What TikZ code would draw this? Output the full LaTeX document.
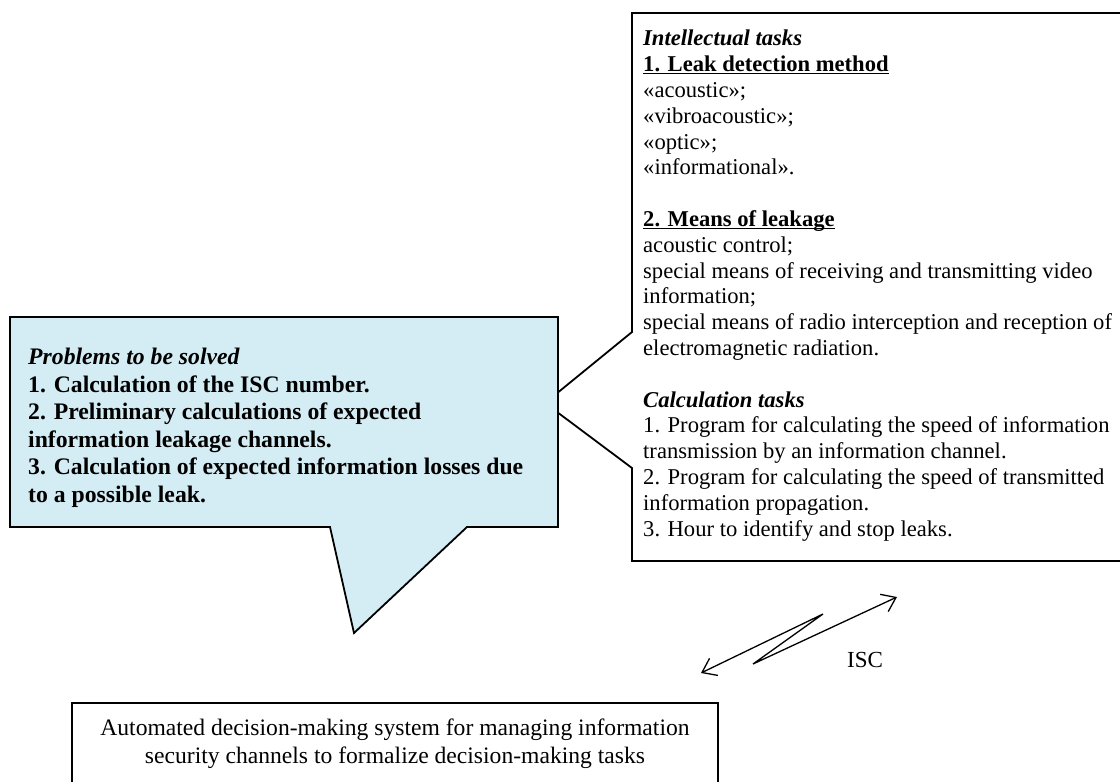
\documentclass[tikz,border=0pt]{standalone}
\usepackage{fontspec}
\setmainfont{Liberation Serif}
\usetikzlibrary{arrows.meta}
\definecolor{blueFill}{RGB}{212,236,243}
\tikzset{
  boxline/.style={draw=black, line width=1.8pt, line join=miter},
  rtext/.style={inner sep=0pt, anchor=north west, align=left,
    font=\fontsize{22.6}{25.8}\selectfont},
  btext/.style={inner sep=0pt, anchor=north west, align=left,
    font=\fontsize{23.7}{27.5}\selectfont\bfseries},
  ctext/.style={inner sep=0pt, anchor=north, align=center,
    font=\fontsize{23.6}{28}\selectfont},
  iscarrow/.style={draw=black, line width=1.3pt, line join=miter,
    {Straight Barb[length=13pt,width=19pt]}-{Straight Barb[length=13pt,width=19pt]}},
}
\newcommand{\ul}[1]{\underline{\smash{#1}}}
\begin{document}
\begin{tikzpicture}[x=1pt,y=-1pt]
\clip (0,0) rectangle (1120,782);
\fill[white] (0,0) rectangle (1120,782);
% right callout box (tip hidden behind the blue box)
\draw[boxline, fill=white] (632,13) -- (1140,13) -- (1140,561) -- (632,561)
  -- (632,468) -- (545,403) -- (632,332) -- cycle;
\node[rtext] (rightText) at (643,30) {%
\textbf{\textit{Intellectual tasks}}\\
\textbf{\ul{1. Leak detection method}}\\
«acoustic»;\\
«vibroacoustic»;\\
«optic»;\\
«informational».\\[25.8pt]
\textbf{\ul{2. Means of leakage}}\\
acoustic control;\\
special means of receiving and transmitting video\\
information;\\
special means of radio interception and reception of\\
electromagnetic radiation.\\[25.8pt]
\textbf{\textit{Calculation tasks}}\\
1. Program for calculating the speed of information\\
transmission by an information channel.\\
2. Program for calculating the speed of transmitted\\
information propagation.\\
3. Hour to identify and stop leaks.};
% blue callout box
\draw[boxline, fill=blueFill] (10,317) -- (558,317) -- (558,527) -- (467,527)
  -- (354,633) -- (330,527) -- (10,527) -- cycle;
\node[btext] (blueText) at (28,348) {%
\textit{Problems to be solved}\\
1. Calculation of the ISC number.\\
2. Preliminary calculations of expected\\
information leakage channels.\\
3. Calculation of expected information losses due\\
to a possible leak.};
% bottom box
\draw[boxline, fill=white] (72,703) rectangle (718,800);
\node[ctext] (bottomText) at (395,719) {%
Automated decision-making system for managing information\\
security channels to formalize decision-making tasks};
% ISC zig-zag arrow
\coordinate (a1) at (701,673);
\coordinate (t1) at (823,614);
\coordinate (t2) at (753,664);
\coordinate (a2) at (897,597);
\draw[iscarrow] (a1) -- (t1) -- (t2) -- (a2);
\node[font=\fontsize{23}{27}\selectfont, inner sep=0pt] (isc) at (865,660) {ISC};
\end{tikzpicture}
\end{document}
